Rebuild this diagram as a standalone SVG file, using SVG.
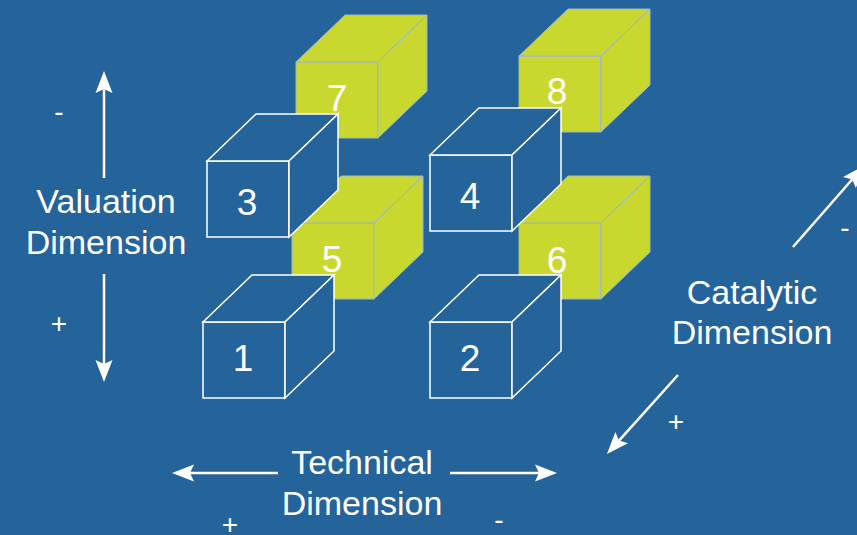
<svg xmlns="http://www.w3.org/2000/svg" xmlns:xlink="http://www.w3.org/1999/xlink" width="857" height="535" viewBox="0 0 857 535">
<style>
.bg{fill:#25649B}
.blue{fill:#25649B;stroke:#FFFFFF;stroke-width:1.5;stroke-linejoin:miter}
.green{fill:#C8D82E;stroke:#9DB6CC;stroke-width:1}
.num{font-family:"Liberation Sans",Arial,sans-serif;font-size:37px;fill:#FFFFFF;text-anchor:middle}
.lbl{font-family:"Liberation Sans",Arial,sans-serif;font-size:34px;fill:#FFFFFF;text-anchor:middle}
.sgn{font-family:"Liberation Sans",Arial,sans-serif;font-size:28px;fill:#FFFFFF;text-anchor:middle}
.arr{stroke:#FFFFFF;stroke-width:2.5;fill:none;marker-end:url(#ah)}
</style>
<defs>
<marker id="ah" markerUnits="userSpaceOnUse" orient="auto" refX="0" refY="0" markerWidth="1" markerHeight="1" overflow="visible">
<path d="M18,0 L-4,-8.5 L0,0 L-4,8.5 Z" fill="#FFFFFF"/>
</marker>
<g id="cube">
<rect x="0" y="0" width="82" height="76"/>
<polygon points="0,0 49,-47 131,-47 82,0"/>
<polygon points="82,0 131,-47 131,29 82,76"/>
</g>
</defs>
<rect class="bg" x="0" y="0" width="857" height="535"/>

<g id="cube7" transform="translate(296,62)"><use xlink:href="#cube" class="green"/><text class="num" x="41" y="49">7</text></g>
<g id="cube8" transform="translate(519,56)"><use xlink:href="#cube" class="green"/><text class="num" x="38" y="48">8</text></g>
<g id="cube5" transform="translate(292,223)"><use xlink:href="#cube" class="green"/><text class="num" x="40" y="49">5</text></g>
<g id="cube6" transform="translate(519,223)"><use xlink:href="#cube" class="green"/><text class="num" x="38" y="50">6</text></g>
<g id="cube3" transform="translate(207,161)"><use xlink:href="#cube" class="blue"/><text class="num" x="40" y="54">3</text></g>
<g id="cube4" transform="translate(430,155)"><use xlink:href="#cube" class="blue"/><text class="num" x="40" y="54">4</text></g>
<g id="cube1" transform="translate(203,322)"><use xlink:href="#cube" class="blue"/><text class="num" x="40" y="49">1</text></g>
<g id="cube2" transform="translate(430,322)"><use xlink:href="#cube" class="blue"/><text class="num" x="40" y="49">2</text></g>

<g id="connectors">
<line class="arr" x1="104" y1="178" x2="104" y2="89"/>
<line class="arr" x1="104" y1="274" x2="104" y2="364"/>
<line class="arr" x1="278" y1="473" x2="190" y2="473"/>
<line class="arr" x1="450" y1="473" x2="539" y2="473"/>
<line class="arr" x1="793" y1="247" x2="852.1" y2="179.5"/>
<line class="arr" x1="678" y1="375" x2="619" y2="440.6"/>
</g>

<g id="valuation">
<text class="lbl" x="106" y="213">Valuation</text>
<text class="lbl" x="106" y="254">Dimension</text>
<text class="sgn" x="59" y="121">-</text>
<text class="sgn" x="59" y="333">+</text>
</g>
<g id="technical">
<text class="lbl" x="362" y="474">Technical</text>
<text class="lbl" x="362" y="515">Dimension</text>
<text class="sgn" x="230" y="534">+</text>
<text class="sgn" x="499" y="529">-</text>
</g>
<g id="catalytic">
<text class="lbl" x="752" y="304">Catalytic</text>
<text class="lbl" x="752" y="344">Dimension</text>
<text class="sgn" x="845" y="237">-</text>
<text class="sgn" x="676" y="431">+</text>
</g>
</svg>
